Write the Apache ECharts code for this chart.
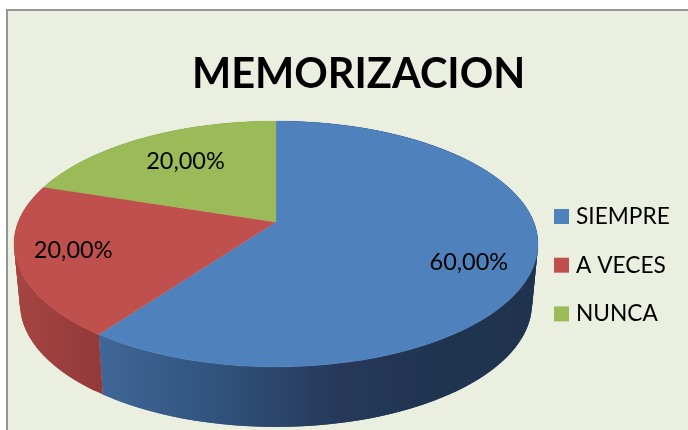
<!DOCTYPE html>
<html>
<head>
<meta charset="utf-8">
<title>MEMORIZACION</title>
<script src="https://cdn.jsdelivr.net/npm/echarts@6/dist/echarts.min.js"></script>
<style>
  html, body { margin: 0; padding: 0; background: #fff; overflow: hidden; }
  #panel {
    position: absolute; left: 6px; top: 9px; right: 0; bottom: 0;
    background: #ebefdf;
    border-left: 2px solid #969696;
    border-top: 2px solid #969696;
  }
  #chart { position: absolute; left: 0; top: 0; width: 688px; height: 430px; }
</style>
</head>
<body>
<div id="panel"></div>
<div id="chart"></div>
<script>
const categories = ["SIEMPRE", "A VECES", "NUNCA"];
const percents = [60, 20, 20];
const topColors = ["#4f81bd", "#c0504d", "#9bbb59"];

// wall shading, left to right
const wallStops = [
  [[0, "#41699a"], [0.25, "#335682"], [0.55, "#26395a"], [0.8, "#1f344f"], [1, "#1f334e"]],
  [[0, "#a64542"], [1, "#92393a"]],
  [[0, "#7c9647"], [1, "#7c9647"]]
];

// pie seen in perspective: apex of the slices, half sizes and tilt
const apexX = 276, apexY = 222;
const halfW = 257.8, halfH = 119, tilt = 0.179;
const depth = 60, bottomScale = 0.977;
const labelRadius = 0.75;
const labelNudge = [[1, 12], [-11, 0], [12, 5]];

function rimPoint(deg, r, floor) {
  const a = deg * Math.PI / 180;
  const u = r * Math.sin(a), v = -r * Math.cos(a);
  const d = 1 - tilt * v;
  const s = floor ? bottomScale : 1;
  return [
    apexX + s * halfW * u / d,
    apexY + (floor ? depth : 0) + halfH * v / d
  ];
}

function renderSlice(params, api) {
  const i = params.seriesIndex;
  const start = api.value(0), end = api.value(1);
  const steps = Math.max(2, Math.round((end - start) / 2));
  const children = [];
  const rim = [];
  for (let s = 0; s <= steps; s++) {
    rim.push(start + (end - start) * s / steps);
  }
  const wallFill = {
    type: "linear", global: true, x: apexX - 190, y: 0, x2: apexX + 262, y2: 0,
    colorStops: wallStops[i].map(function (c) { return { offset: c[0], color: c[1] }; })
  };
  if (i === 1) { wallFill.x = 14; wallFill.x2 = 104; }
  // strips overlap by one step so no seams show between them
  for (let s = 0; s < steps; s++) {
    const next = rim[Math.min(s + 2, steps)];
    children.push({
      type: "polygon", z2: 1,
      shape: { points: [rimPoint(rim[s], 1), rimPoint(next, 1), rimPoint(next, 1, true), rimPoint(rim[s], 1, true)] },
      style: { fill: wallFill }
    });
  }
  const face = [[apexX, apexY]].concat(rim.map(function (d) { return rimPoint(d, 1); }));
  children.push({
    type: "polygon", z2: 10,
    shape: { points: face },
    style: { fill: topColors[i], stroke: topColors[i], lineWidth: 0.3 }
  });
  const mid = rimPoint((start + end) / 2, labelRadius);
  children.push({
    type: "text", z2: 20,
    x: mid[0] + labelNudge[i][0], y: mid[1] + labelNudge[i][1],
    style: {
      text: percents[i].toFixed(2).replace(".", ",") + "%",
      fill: "#000", font: "23.5px Lato", align: "center", verticalAlign: "middle"
    }
  });
  return { type: "group", children: children };
}

let acc = 0;
const series = categories.map(function (name, i) {
  const from = acc * 3.6;
  acc += percents[i];
  return {
    type: "custom",
    name: name,
    coordinateSystem: "none",
    renderItem: renderSlice,
    itemStyle: { color: topColors[i] },
    data: [[from, acc * 3.6]],
    silent: true,
    animation: false
  };
});

const chart = echarts.init(document.getElementById("chart"), null, { renderer: "canvas" });
chart.setOption({
  backgroundColor: "transparent",
  animation: false,
  color: topColors,
  title: {
    text: "MEMORIZACION",
    left: 192, top: 54, padding: 0,
    textStyle: { fontFamily: "Lato", fontSize: 41.5, fontWeight: "bold", color: "#000" }
  },
  legend: {
    orient: "vertical",
    left: 554, top: 205, padding: 0,
    itemWidth: 15, itemHeight: 15, itemGap: 25.7,
    icon: "rect",
    selectedMode: false,
    data: categories,
    textStyle: { fontFamily: "Lato", fontSize: 22.7, color: "#000", padding: [0, 0, 0, 2] }
  },
  series: series
});
</script>
</body>
</html>
